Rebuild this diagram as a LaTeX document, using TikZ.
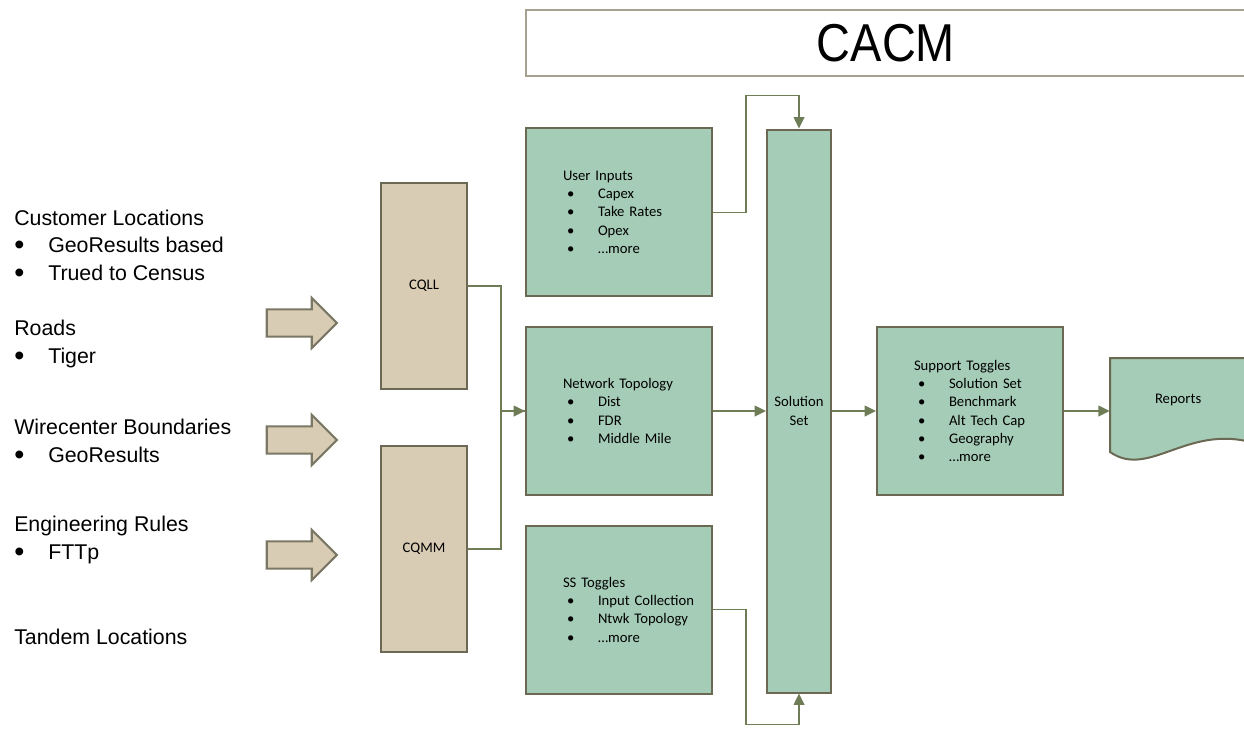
\documentclass[tikz,border=0pt]{standalone}
\usepackage{fontspec}
\setmainfont{Carlito}
\newfontfamily\srcfont{Liberation Sans}
\usepackage{graphicx}
\usetikzlibrary{shapes.arrows, arrows.meta}

\definecolor{boxgreen}{HTML}{A5CCB7}
\definecolor{boxtan}{HTML}{D9CCB4}
\definecolor{edgegray}{HTML}{6B6853}
\definecolor{lineolive}{HTML}{6F7D57}
\definecolor{framegray}{HTML}{A5A291}

\newcommand{\bul}[1]{\mbox{\makebox[26.25pt][l]{\hspace{3pt}\textbullet}#1}}
\newcommand{\srcbul}[1]{\mbox{\makebox[25.5pt][l]{\raisebox{-1.8pt}{\scalebox{1.35}{\textbullet}}}#1}}
\newcommand{\boxfont}{\fontsize{11}{13.7}\selectfont\spaceskip=0.15em}

\tikzstyle{greenbox} = [rectangle, minimum width=139.5pt, minimum height=126pt, text width=84pt, inner sep=0pt, align=left, fill=boxgreen, draw=edgegray, line width=1.5pt, font=\boxfont]
\tikzstyle{tallbox} = [rectangle, minimum width=48pt, minimum height=422.25pt, inner sep=0pt, align=center, fill=boxgreen, draw=edgegray, line width=1.5pt, font=\boxfont]
\tikzstyle{tanbox} = [rectangle, minimum width=64.5pt, minimum height=154.5pt, fill=boxtan, draw=edgegray, line width=1.5pt, font=\boxfont]
\tikzstyle{fatarrow} = [single arrow, minimum height=52.5pt, inner xsep=0pt, inner ysep=9.4pt, single arrow head extend=8.6pt, fill=boxtan, draw=edgegray!90, line width=1.6pt]
\tikzstyle{doc} = [rectangle, minimum width=112.5pt, minimum height=79.5pt, text width=45pt, text depth=18pt, inner sep=0pt, align=left, font=\boxfont]
\tikzstyle{docline} = [fill=boxgreen, draw=edgegray, line width=1.5pt]
\tikzstyle{titlebar} = [rectangle, minimum width=540pt, minimum height=49.5pt, inner sep=0pt, draw=framegray, line width=1.2pt, font=\srcfont\fontsize{40}{40}\selectfont]
\tikzstyle{source} = [anchor=west, align=left, inner sep=0pt, font=\srcfont\fontsize{16}{20.6}\selectfont]
\tikzstyle{link} = [line width=1.1pt, draw=lineolive]
\tikzstyle{arrow} = [line width=1.1pt, draw=lineolive, -{Triangle[length=8.5pt,width=8pt]}, lineolive]

\begin{document}
\begin{tikzpicture}[x=0.75pt, y=-0.75pt, node distance=149pt]
\useasboundingbox (0,0) rectangle (1244,728);
\clip (0,0) rectangle (1244,728);

% data sources
\node (cust) [source] at (14,246) {Customer Locations\\ \srcbul{GeoResults based}\\ \srcbul{Trued to Census}};
\node (roads) [source] at (14,344) {Roads\\ \srcbul{Tiger}};
\node (wire) [source] at (14,442) {Wirecenter Boundaries\\ \srcbul{GeoResults}};
\node (eng) [source] at (14,540) {Engineering Rules\\ \srcbul{FTTp}};
\node (tandem) [source] at (14,637) {Tandem Locations};

\node (arr1) [fatarrow] at (295,323) {};
\node (arr2) [fatarrow] at (295,440) {};
\node (arr3) [fatarrow] at (295,555) {};

% model blocks
\node (netw) [greenbox] at (619,411) {Network Topology\\ \bul{Dist}\\ \bul{FDR}\\ \bul{Middle Mile}};
\node (userin) [greenbox, above of=netw] {User Inputs\\ \bul{Capex}\\ \bul{Take Rates}\\ \bul{Opex}\\ \bul{\dots more}};
\node (sstog) [greenbox, below of=netw] {SS Toggles\\ \bul{Input Collection}\\ \bul{Ntwk Topology}\\ \bul{\dots more}};
\node (solset) [tallbox, right of=netw, xshift=-14pt] {Solution\\Set};
\node (support) [greenbox, right of=solset, xshift=-20.75pt] {Support Toggles\\ \bul{Solution Set}\\ \bul{Benchmark}\\ \bul{Alt Tech Cap}\\ \bul{Geography}\\ \bul{\dots more}};
\node (cqll) [tanbox, left of=netw, xshift=2.75pt, yshift=93.75pt] {CQLL};
\node (cqmm) [tanbox, below of=cqll, yshift=-48.25pt] {CQMM};

\draw [docline] (1110,358) -- (1110,452) .. controls (1150,480) and (1190,420) .. (1260,445) -- (1260,358) -- cycle;
\node (reports) [doc, right of=support, xshift=12.25pt] {Reports};

\node (cacm) [titlebar] at (886,43) {\scalebox{0.88}[1]{CACM}};

\draw [link] (cqll.east) -- ++(33,0) |- (netw.west);
\draw [arrow] (cqmm.east) -- ++(33,0) |- (netw.west);
\draw [arrow] (userin.east) -- ++(33,0) |- ([yshift=24.75pt]solset.north) -- (solset.north);
\draw [arrow] (sstog.east) -- ++(33,0) |- ([yshift=-23.25pt]solset.south) -- (solset.south);
\draw [arrow] (netw) -- (solset);
\draw [arrow] (solset) -- (support);
\draw [arrow] (support) -- (reports);

\end{tikzpicture}
\end{document}
